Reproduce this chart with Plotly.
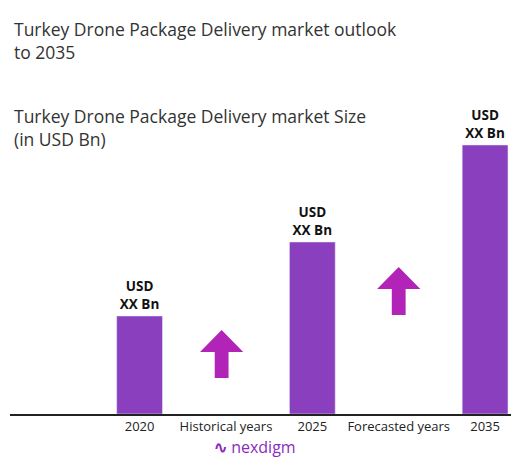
import plotly.graph_objects as go

categories = ["2020", "Historical years", "2025", "Forecasted years", "2035"]
bar_years = ["2020", "2025", "2035"]
bar_values = [98, 172, 269]
bar_labels = ["USD<br>XX Bn", "USD<br>XX Bn", "USD<br>XX Bn"]

bar_color = "#8A3FBE"
arrow_color = "#B224B8"

fig = go.Figure()
fig.add_trace(go.Bar(x=bar_years, y=bar_values, width=0.53,
                     marker_color=bar_color, text=bar_labels,
                     textposition="outside", cliponaxis=False,
                     texttemplate="<b>%{text}</b>",
                     textfont=dict(family="Open Sans", size=13.5, color="#111"),
                     hoverinfo="skip"))


def arrow(xc, y0):
    # block arrow in data units: x in category units, y in value units
    hw, sw, h, sh = 0.25, 0.08, 48, 22
    return (f"M {xc-sw} {y0} L {xc+sw} {y0} L {xc+sw} {y0+h-sh} L {xc+hw} {y0+h-sh} "
            f"L {xc} {y0+h} L {xc-hw} {y0+h-sh} L {xc-sw} {y0+h-sh} Z")


fig.add_shape(type="path", path=arrow(0.95, 36), xref="x", yref="y",
              fillcolor=arrow_color, line_width=0)
fig.add_shape(type="path", path=arrow(3, 99), xref="x", yref="y",
              fillcolor=arrow_color, line_width=0)

fig.add_annotation(text="Turkey Drone Package Delivery market outlook<br>to 2035",
                   xref="paper", yref="paper", x=0.003, y=1.0, yshift=85,
                   xanchor="left", yanchor="top", align="left", showarrow=False,
                   font=dict(family="Open Sans", size=17.5, color="#333"))
fig.add_annotation(text="Turkey Drone Package Delivery market Size<br>(in USD Bn)",
                   xref="paper", yref="paper", x=0.003, y=1.0, yshift=-2,
                   xanchor="left", yanchor="top", align="left", showarrow=False,
                   font=dict(family="Open Sans", size=17.5, color="#333"))
fig.add_annotation(text="<b>∿</b> nexdigm", xref="paper", yref="paper",
                   x=0.49, y=0, yshift=-46, showarrow=False,
                   font=dict(family="Open Sans", size=16, color="#8A2BC0"))

fig.update_layout(
    width=530, height=470, margin=dict(l=2, r=27, t=92, b=64),
    plot_bgcolor="white", paper_bgcolor="white", showlegend=False,
    xaxis=dict(type="category", categoryorder="array", categoryarray=categories,
               range=[-1.5, 4.3], showline=True, linecolor="#222", linewidth=1.5,
               showgrid=False, ticks="", tickfont=dict(family="Open Sans", size=13, color="#222")),
    yaxis=dict(range=[0, 314], visible=False),
)
fig.write_html("out.html")
